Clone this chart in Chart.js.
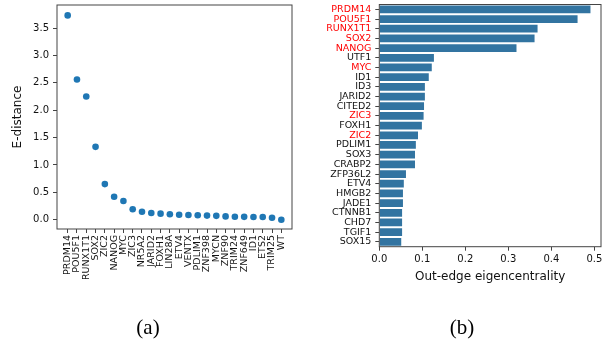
<!DOCTYPE html>
<html><head><meta charset="utf-8">
<script src="https://cdn.jsdelivr.net/npm/chart.js@4"></script>
<style>
html,body{margin:0;padding:0;background:#fff;}
#wrap{position:relative;width:602px;height:341px;overflow:hidden;background:#fff;}
canvas{position:absolute;top:0;}
#c1{left:0;} #c2{left:300px;}
.cap{position:absolute;font-family:"Liberation Serif","DejaVu Serif",serif;font-size:21px;color:#000;transform:translate(-50%,-50%);top:327px;white-space:nowrap;}
</style></head><body>
<div id="wrap">
<canvas id="c1" width="300" height="341"></canvas>
<canvas id="c2" width="302" height="341"></canvas>
<div class="cap" style="left:148px">(a)</div>
<div class="cap" style="left:462px">(b)</div>
</div>
<script>
// ---- Panel (a) data ----
const edistGenes = ["PRDM14","POU5F1","RUNX1T1","SOX2","ZIC2","NANOG","MYC","ZIC3","NR5A2","JARID2","FOXH1","LIN28A","ETV4","VENTX","PDLIM1","ZNF398","MYCN","ZNF90","TRIM24","ZNF649","ID1","ETS2","TRIM25","WT"];
const edistValues = [3.73,2.56,2.25,1.33,0.65,0.42,0.34,0.19,0.146,0.122,0.11,0.10,0.09,0.085,0.08,0.075,0.07,0.06,0.055,0.052,0.05,0.048,0.035,0.0];
const edistTicks = [0.0,0.5,1.0,1.5,2.0,2.5,3.0,3.5];

// ---- Panel (b) data ----
const eigGenes = ["PRDM14","POU5F1","RUNX1T1","SOX2","NANOG","UTF1","MYC","ID1","ID3","JARID2","CITED2","ZIC3","FOXH1","ZIC2","PDLIM1","SOX3","CRABP2","ZFP36L2","ETV4","HMGB2","JADE1","CTNNB1","CHD7","TGIF1","SOX15"];
const eigValues = [0.491,0.461,0.368,0.361,0.319,0.127,0.122,0.115,0.106,0.106,0.104,0.103,0.099,0.090,0.085,0.083,0.083,0.062,0.057,0.055,0.055,0.053,0.053,0.053,0.051];
const redGenes = ["PRDM14","POU5F1","RUNX1T1","SOX2","NANOG","MYC","ZIC3","ZIC2"];
const eigTicks = [0.0,0.1,0.2,0.3,0.4,0.5];

const FONT = "DejaVu Sans";
const SPINE = '#444';
const TXT = '#111';

const frame = {
  id: 'frame',
  afterDraw(chart) {
    const {ctx, chartArea: a} = chart;
    ctx.save();
    ctx.strokeStyle = SPINE;
    ctx.lineWidth = 1;
    ctx.strokeRect(a.left, a.top, a.right - a.left, a.bottom - a.top);
    ctx.restore();
  }
};

const gridOpts = {display: true, drawOnChartArea: false, drawTicks: true, tickLength: 4, color: SPINE, tickWidth: 1};

new Chart(document.getElementById('c1'), {
  type: 'scatter',
  data: {
    datasets: [{
      data: edistValues.map((v, i) => ({x: i, y: v})),
      backgroundColor: '#1f77b4',
      borderWidth: 0,
      pointRadius: 3.3,
      pointHoverRadius: 3.3
    }]
  },
  options: {
    responsive: false,
    animation: false,
    events: [],
    layout: {padding: {top: 5, right: 8, left: 0, bottom: 0}},
    plugins: {legend: {display: false}, tooltip: {enabled: false}},
    scales: {
      x: {
        type: 'linear',
        min: -(edistGenes.length - 1) * 0.05,
        max: (edistGenes.length - 1) * 1.05,
        grid: gridOpts,
        border: {display: false},
        afterBuildTicks: s => { s.ticks = edistGenes.map((g, i) => ({value: i})); },
        afterFit: s => { s.height = 112; s.paddingLeft = 0; s.paddingRight = 0; },
        ticks: {
          autoSkip: false, maxRotation: 90, minRotation: 90, padding: 2,
          color: TXT, font: {family: FONT, size: 9.5},
          callback: v => edistGenes[v]
        }
      },
      y: {
        type: 'linear',
        min: -0.17,
        max: 3.92,
        grid: gridOpts,
        border: {display: false},
        afterBuildTicks: s => { s.ticks = edistTicks.map(v => ({value: v})); },
        afterFit: s => { s.width = 57; s.paddingTop = 0; s.paddingBottom = 0; },
        title: {display: true, text: 'E-distance', color: TXT, font: {family: FONT, size: 12}, padding: {top: 11, bottom: 0}},
        ticks: {
          padding: 4, color: TXT, font: {family: FONT, size: 10},
          callback: v => Number(v).toFixed(1)
        }
      }
    }
  },
  plugins: [frame]
});

new Chart(document.getElementById('c2'), {
  type: 'bar',
  data: {
    labels: eigGenes,
    datasets: [{
      data: eigValues,
      backgroundColor: '#3274a1',
      borderWidth: 0,
      barPercentage: 0.8,
      categoryPercentage: 1.0
    }]
  },
  options: {
    indexAxis: 'y',
    responsive: false,
    animation: false,
    events: [],
    layout: {padding: {top: 4.5, right: 1, left: 0, bottom: 56}},
    plugins: {legend: {display: false}, tooltip: {enabled: false}},
    scales: {
      x: {
        type: 'linear',
        min: 0,
        max: 0.5155,
        grid: gridOpts,
        border: {display: false},
        afterBuildTicks: s => { s.ticks = eigTicks.map(v => ({value: v})); },
        afterFit: s => { s.height = 38.3; s.paddingLeft = 0; s.paddingRight = 0; },
        title: {display: true, text: 'Out-edge eigencentrality', color: TXT, font: {family: FONT, size: 12}, padding: {top: 0, bottom: 1}},
        ticks: {
          autoSkip: false, maxRotation: 0, minRotation: 0, padding: 3,
          color: TXT, font: {family: FONT, size: 10},
          callback: v => Number(v).toFixed(1)
        }
      },
      y: {
        type: 'category',
        grid: Object.assign({}, gridOpts, {offset: false}),
        border: {display: false},
        afterFit: s => { s.width = 79.3; s.paddingTop = 0; s.paddingBottom = 0; },
        ticks: {
          autoSkip: false, padding: 4,
          font: {family: FONT, size: 9.5},
          color: ctx => redGenes.includes(eigGenes[ctx.index]) ? '#ff0000' : TXT
        }
      }
    }
  },
  plugins: [frame]
});
</script>
</body></html>
